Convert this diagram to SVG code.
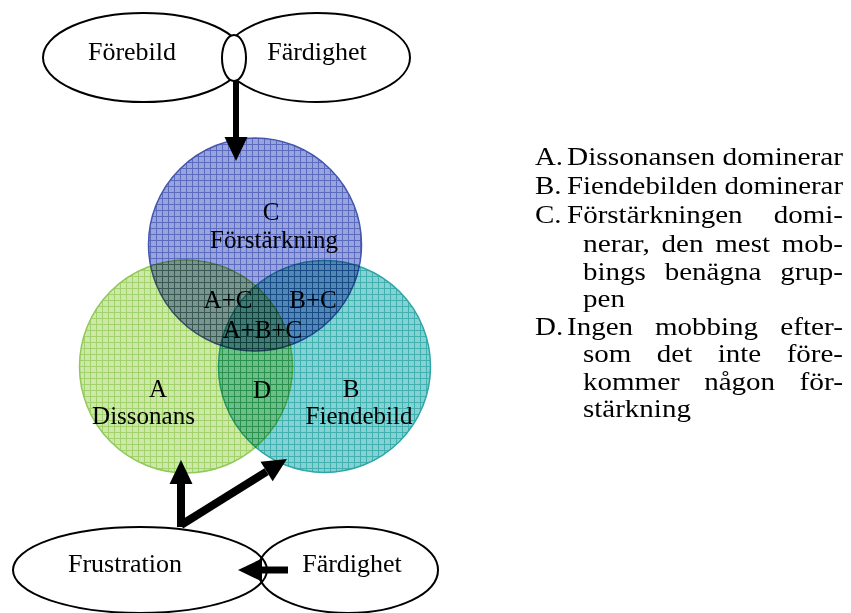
<svg xmlns="http://www.w3.org/2000/svg" width="851" height="613" viewBox="0 0 851 613">
<defs>
<style>
.t{font-family:"Liberation Serif","Times New Roman",serif;fill:#000}
.big{font-size:26px}
.mid{font-size:25px}
.leg{font-size:25px}
.c{text-anchor:middle}
.ell{fill:#fff;stroke:#000;stroke-width:2}
.ellN{fill:none;stroke:#000;stroke-width:2}
.circ{mix-blend-mode:multiply;stroke-width:1.5}
.arr{fill:none;stroke:#000;marker-end:url(#ah)}
</style>
<pattern id="pC" width="6" height="6" patternUnits="userSpaceOnUse"><rect width="6" height="6" fill="#98a4db"/><path d="M0,0.5H6M0.5,0V6" stroke="#5a6bc0" stroke-width="1"/></pattern>
<pattern id="pA" width="6" height="6" patternUnits="userSpaceOnUse"><rect width="6" height="6" fill="#cde8a8"/><path d="M0,0.5H6M0.5,0V6" stroke="#a2d26c" stroke-width="1"/></pattern>
<pattern id="pB" width="6" height="6" patternUnits="userSpaceOnUse"><rect width="6" height="6" fill="#86d2d2"/><path d="M0,0.5H6M0.5,0V6" stroke="#40b0b0" stroke-width="1"/></pattern>
<marker id="ah" markerUnits="userSpaceOnUse" markerWidth="24" markerHeight="23" refX="0" refY="11.5" orient="auto" overflow="visible"><path d="M0,0L24,11.5L0,23z" fill="#000"/></marker>
</defs>
<rect width="851" height="613" fill="#fff"/>

<g id="venn">
<circle id="circleC" class="circ" cx="255" cy="244.5" r="106.5" fill="url(#pC)" stroke="#4456ad"/>
<circle id="circleA" class="circ" cx="186" cy="366.5" r="106.5" fill="url(#pA)" stroke="#8fc958"/>
<circle id="circleB" class="circ" cx="324.5" cy="366.5" r="106" fill="url(#pB)" stroke="#2fa6a6"/>
</g>

<g id="forebild"><ellipse class="ell" cx="143.5" cy="57.5" rx="100.5" ry="44.5"/><text class="t big c" x="132" y="60">Förebild</text></g>
<g id="fardighet-top"><ellipse class="ell" cx="317" cy="57.5" rx="93" ry="44.5"/><text class="t big c" x="317" y="60">Färdighet</text></g>
<g id="junction"><ellipse class="ell" cx="234" cy="58" rx="12" ry="23"/></g>

<g id="frustration"><ellipse class="ellN" cx="140" cy="570" rx="127" ry="43"/><text class="t big c" x="125" y="572">Frustration</text></g>
<g id="fardighet-bottom"><ellipse class="ellN" cx="348" cy="570" rx="90" ry="43"/><text class="t big c" x="352" y="572">Färdighet</text></g>

<g id="labels">
<g id="labelC"><text class="t mid c" x="271" y="220">C</text><text class="t mid c" x="274" y="248">Förstärkning</text></g>
<g id="labelAC"><text class="t mid c" x="228" y="308">A+C</text></g>
<g id="labelBC"><text class="t mid c" x="313" y="308">B+C</text></g>
<g id="labelABC"><text class="t mid c" x="262.5" y="338">A+B+C</text></g>
<g id="labelA"><text class="t mid c" x="158" y="397">A</text><text class="t mid c" x="143.5" y="424">Dissonans</text></g>
<g id="labelD"><text class="t mid c" x="262" y="398">D</text></g>
<g id="labelB"><text class="t mid c" x="351" y="397">B</text><text class="t mid c" x="359" y="424">Fiendebild</text></g>
</g>

<g id="connectors">
<path class="arr" d="M236,81V137" stroke-width="6"/>
<path class="arr" d="M181,527V484" stroke-width="8"/>
<path class="arr" d="M181,525L266.6,471.6" stroke-width="8"/>
<path class="arr" d="M288,570H262" stroke-width="7"/>
</g>

<g id="legend">
<text class="t leg" x="535" y="165" textLength="28" lengthAdjust="spacingAndGlyphs">A.</text>
<text class="t leg" x="567" y="165" textLength="276" lengthAdjust="spacingAndGlyphs">Dissonansen dominerar</text>
<text class="t leg" x="535" y="194" textLength="26.6" lengthAdjust="spacingAndGlyphs">B.</text>
<text class="t leg" x="567" y="194" textLength="276" lengthAdjust="spacingAndGlyphs">Fiendebilden dominerar</text>
<text class="t leg" x="535" y="223" textLength="26.6" lengthAdjust="spacingAndGlyphs">C.</text>
<text class="t leg" x="567" y="223" textLength="175.6" lengthAdjust="spacingAndGlyphs">Förstärkningen</text>
<text class="t leg" x="773.7" y="223" textLength="69.3" lengthAdjust="spacingAndGlyphs">domi-</text>
<text class="t leg" x="583" y="252" textLength="66.8" lengthAdjust="spacingAndGlyphs">nerar,</text>
<text class="t leg" x="661.6" y="252" textLength="41.9" lengthAdjust="spacingAndGlyphs">den</text>
<text class="t leg" x="715.3" y="252" textLength="54.8" lengthAdjust="spacingAndGlyphs">mest</text>
<text class="t leg" x="781.8" y="252" textLength="61.2" lengthAdjust="spacingAndGlyphs">mob-</text>
<text class="t leg" x="583" y="280" textLength="62.8" lengthAdjust="spacingAndGlyphs">bings</text>
<text class="t leg" x="664.7" y="280" textLength="96.6" lengthAdjust="spacingAndGlyphs">benägna</text>
<text class="t leg" x="780.2" y="280" textLength="62.8" lengthAdjust="spacingAndGlyphs">grup-</text>
<text class="t leg" x="583" y="307" textLength="41.9" lengthAdjust="spacingAndGlyphs">pen</text>
<text class="t leg" x="535" y="335" textLength="28.2" lengthAdjust="spacingAndGlyphs">D.</text>
<text class="t leg" x="567" y="335" textLength="66" lengthAdjust="spacingAndGlyphs">Ingen</text>
<text class="t leg" x="655" y="335" textLength="103.1" lengthAdjust="spacingAndGlyphs">mobbing</text>
<text class="t leg" x="780.2" y="335" textLength="62.8" lengthAdjust="spacingAndGlyphs">efter-</text>
<text class="t leg" x="583" y="362" textLength="48.3" lengthAdjust="spacingAndGlyphs">som</text>
<text class="t leg" x="656.8" y="362" textLength="35.4" lengthAdjust="spacingAndGlyphs">det</text>
<text class="t leg" x="717.7" y="362" textLength="43.5" lengthAdjust="spacingAndGlyphs">inte</text>
<text class="t leg" x="786.7" y="362" textLength="56.3" lengthAdjust="spacingAndGlyphs">före-</text>
<text class="t leg" x="583" y="390" textLength="96.7" lengthAdjust="spacingAndGlyphs">kommer</text>
<text class="t leg" x="704.2" y="390" textLength="70.9" lengthAdjust="spacingAndGlyphs">någon</text>
<text class="t leg" x="799.5" y="390" textLength="43.5" lengthAdjust="spacingAndGlyphs">för-</text>
<text class="t leg" x="583" y="417" textLength="107.9" lengthAdjust="spacingAndGlyphs">stärkning</text>
</g>
</svg>
